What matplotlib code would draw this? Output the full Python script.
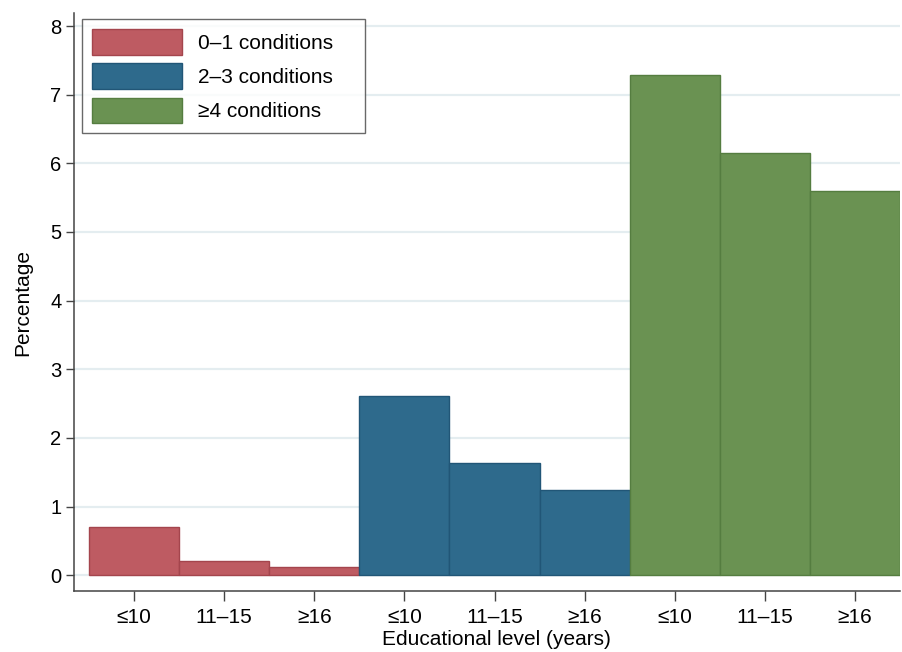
import matplotlib
matplotlib.use('Agg')
import matplotlib.pyplot as plt

plt.rcParams['font.family'] = ['Liberation Sans', 'DejaVu Sans']

groups = ['0–1 conditions', '2–3 conditions', '≥4 conditions']
edu_levels = ['≤10', '11–15', '≥16']
pct_01 = [0.70, 0.21, 0.12]
pct_23 = [2.61, 1.63, 1.24]
pct_4plus = [7.29, 6.15, 5.60]

fills = ['#BE5B62', '#2E6A8C', '#6A9252']
edges = ['#A4454D', '#215677', '#557D40']

fig = plt.figure(figsize=(9.02, 6.52), dpi=100)
ax = fig.add_axes([74/902, 61/652, 826/902, 578/652])

series = [pct_01, pct_23, pct_4plus]
pos = 0
xticks = []
for g, vals in enumerate(series):
    xs = list(range(pos, pos + len(vals)))
    ax.bar(xs, vals, width=1.0, color=fills[g], edgecolor=edges[g],
           linewidth=1.0, label=groups[g], zorder=3)
    xticks += xs
    pos += len(vals)

ax.set_xlim(-0.667, 8.5)
ax.set_ylim(-0.23, 8.19)
ax.set_yticks(range(0, 9))
ax.set_xticks(xticks)
ax.set_xticklabels(edu_levels * 3)
ax.yaxis.grid(True, color='#E4EDF0', linewidth=1.6, zorder=0)
ax.set_axisbelow(True)

for s in ['top', 'right']:
    ax.spines[s].set_visible(False)
for s in ['left', 'bottom']:
    ax.spines[s].set_color('#444444')
    ax.spines[s].set_linewidth(1.1)
ax.tick_params(axis='y', labelsize=14.5, length=6, width=1, color='#444444', pad=3)
ax.tick_params(axis='x', labelsize=15, length=7, width=1, color='#444444', pad=5)

ax.set_ylabel('Percentage', fontsize=15, labelpad=13)
ax.set_xlabel('Educational level (years)', fontsize=15)
ax.xaxis.set_label_coords((496 - 74) / 826, -39 / 578)

# legend box spans a fixed width like the original
lw, lh = 283/826, 113/578
leg = ax.legend(loc='upper left', bbox_to_anchor=(8/826, 1 - 6/578 - lh, lw, lh),
                mode='expand', borderaxespad=0, fontsize=15, frameon=True,
                fancybox=False, handlelength=4.3, handleheight=1.51,
                labelspacing=0.42, handletextpad=0.8, borderpad=0.48)
leg.get_frame().set_edgecolor('#444444')
leg.get_frame().set_linewidth(1.0)

fig.savefig('out.png', dpi=100)
